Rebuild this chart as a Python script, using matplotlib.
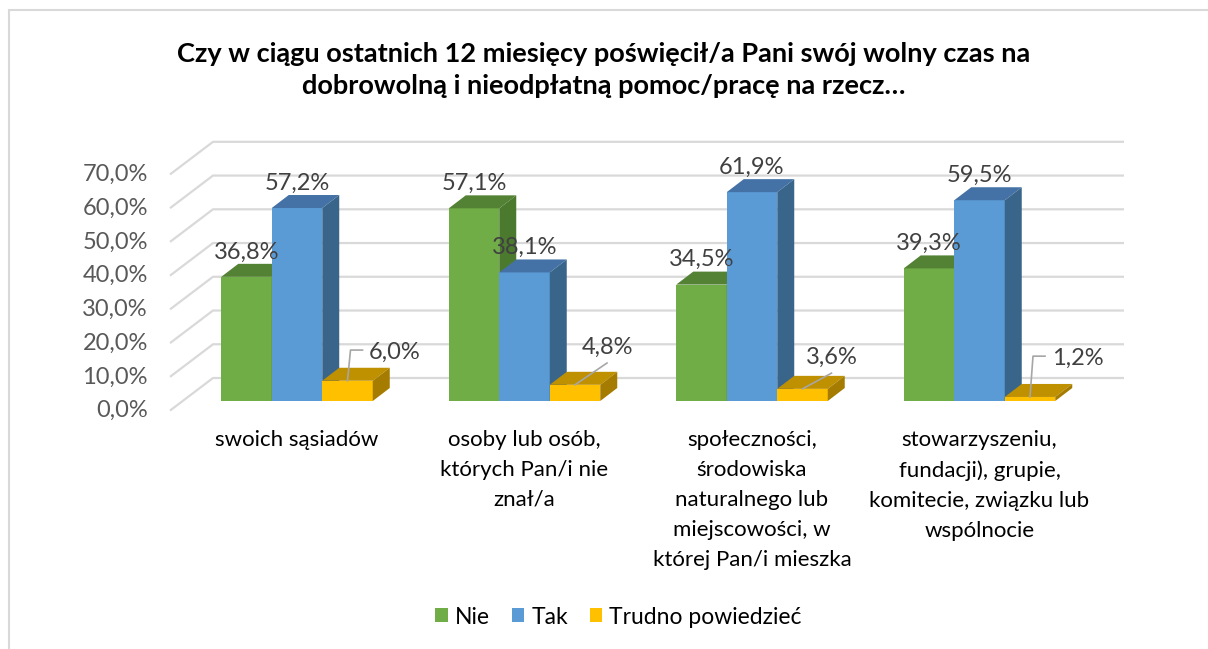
import matplotlib.pyplot as plt
from matplotlib.patches import Polygon, Rectangle, Patch

plt.rcParams["font.family"] = ["Lato", "DejaVu Sans"]

categories = [
    "swoich sąsiadów",
    "osoby lub osób,\nktórych Pan/i nie\nznał/a",
    "społeczności,\nśrodowiska\nnaturalnego lub\nmiejscowości, w\nktórej Pan/i mieszka",
    "stowarzyszeniu,\nfundacji), grupie,\nkomitecie, związku lub\nwspólnocie",
]
series_names = ["Nie", "Tak", "Trudno powiedzieć"]
nie = [36.8, 57.1, 34.5, 39.3]
tak = [57.2, 38.1, 61.9, 59.5]
trudno = [6.0, 4.8, 3.6, 1.2]
y_ticks = [0, 10, 20, 30, 40, 50, 60, 70]

title = ("Czy w ciągu ostatnich 12 miesięcy poświęcił/a Pani swój wolny czas na\n"
         "dobrowolną i nieodpłatną pomoc/pracę na rzecz…")

# front, top, side
colors = [
    ("#70AD47", "#548235", "#4B7A2F"),
    ("#5B9BD5", "#4472A6", "#3A658B"),
    ("#FFC000", "#BF9000", "#A67C00"),
]

# layout in pixels
W, H = 1208, 649
X0, Y0 = 297, 401          # centre of first group, bar baseline
PX_CAT, PX_PCT = 227.5, 3.374
BAR_W = 50.5 / PX_CAT
DX, DY = 17 / PX_CAT, 13 / PX_PCT

# small-label placement (px to the right, % height)
small_dx = [47.5, 32, 29, 48]
small_y = [14.5, 16.0, 13.0, 12.7]


def px_x(p):
    return p / PX_CAT


def px_y(p):
    return p / PX_PCT


fig = plt.figure(figsize=(W / 100, H / 100), dpi=100)
ax = fig.add_axes([0, 0, 1, 1])
ax.set_xlim(-X0 / PX_CAT, (W - X0) / PX_CAT)
ax.set_ylim((Y0 - H) / PX_PCT, Y0 / PX_PCT)
ax.axis("off")

# outer border
fig.add_artist(Rectangle((9 / W, -0.1), 1.2, 1 - 10 / H + 0.1,
                         transform=fig.transFigure, fill=False,
                         edgecolor="#d9d9d9", linewidth=1.5))

# walls
back_x0 = px_x(213 - X0)
back_x1 = px_x(1124 - X0)
front_x = px_x(170 - X0)
back_dy = px_y(23)
front_dy = px_y(-9.6)
for v in y_ticks:
    ax.plot([front_x, back_x0, back_x1], [v + front_dy, v + back_dy, v + back_dy],
            color="#d9d9d9", linewidth=1.6, zorder=1, solid_capstyle="butt")
    ax.text(px_x(148 - X0), v + front_dy, f"{v:.1f}%".replace(".", ","),
            ha="right", va="center", fontsize=17, color="#595959")

# bars
all_series = [nie, tak, trudno]
for i in range(len(categories)):
    for s, vals in enumerate(all_series):
        v = vals[i]
        xl = i + (s - 1.5) * BAR_W
        xr = xl + BAR_W
        front, top, side = colors[s]
        z = 2 + i * 3 + s
        ax.add_patch(Polygon([(xl, 0), (xr, 0), (xr, v), (xl, v)],
                             closed=True, facecolor=front, edgecolor="none", zorder=z))
        ax.add_patch(Polygon([(xl, v), (xr, v), (xr + DX, v + DY), (xl + DX, v + DY)],
                             closed=True, facecolor=top, edgecolor="none", zorder=z))
        ax.add_patch(Polygon([(xr, 0), (xr + DX, DY), (xr + DX, v + DY), (xr, v)],
                             closed=True, facecolor=side, edgecolor="none", zorder=z))
        xc = (xl + xr) / 2
        if s < 2:
            ax.text(xc, v + 7.4, f"{v:.1f}%".replace(".", ","), ha="center",
                    va="center", fontsize=17, color="#404040", zorder=30)
        else:
            lx = xc + px_x(small_dx[i])
            ly = small_y[i]
            if small_dx[i] > 40:
                ax.plot([xc, xc + px_x(3), xc + px_x(15)], [v, ly + px_y(2), ly + px_y(2)],
                        color="#a6a6a6", linewidth=1.2, zorder=29)
            else:
                ax.plot([xc, lx], [v, ly - px_y(16)], color="#a6a6a6",
                        linewidth=1.2, zorder=29)
            ax.text(lx, ly, f"{v:.1f}%".replace(".", ","), ha="center",
                    va="center", fontsize=17, color="#404040", zorder=30)

# category labels
for i, lab in enumerate(categories):
    ax.text(i, px_y(401 - 430), lab, ha="center", va="top", fontsize=16,
            color="#000000", linespacing=1.62)

fig.text(0.5, 1 - 70 / H, title, ha="center", va="center", fontsize=19.5,
         fontweight="bold", color="#000000", linespacing=1.4)

handles = [Patch(facecolor=c[0], edgecolor="none") for c in colors]
fig.legend(handles, series_names, loc="center", bbox_to_anchor=(618.5 / W, 1 - 617 / H),
           ncol=3, frameon=False, fontsize=16.5, handlelength=0.55, handleheight=0.55,
           handletextpad=0.3, columnspacing=0.95, borderpad=0)

fig.savefig("out.png", dpi=100)
